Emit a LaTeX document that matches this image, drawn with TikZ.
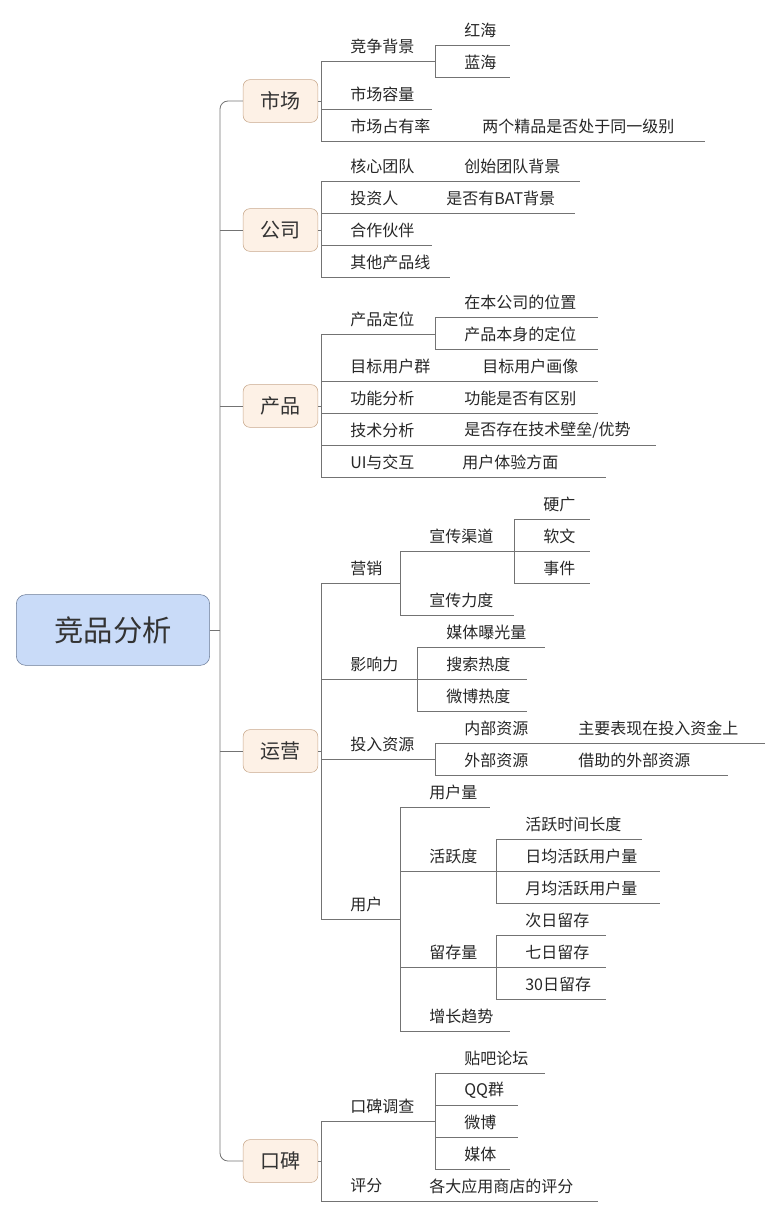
\documentclass[tikz,border=0pt]{standalone}
\usepackage{fontspec}
\setmainfont{Noto Sans CJK SC}
\definecolor{rootfill}{HTML}{C9DBF8}
\definecolor{rootline}{HTML}{6A7A96}
\definecolor{onefill}{HTML}{FDF1E6}
\definecolor{oneline}{HTML}{C8A88C}
\begin{document}
\begin{tikzpicture}[x=0.75pt,y=-0.75pt,
  ln/.style={draw=black!55,line width=0.6pt},
  txt/.style={font=\fontsize{12}{14}\selectfont,anchor=west,inner sep=0pt,text=black!85},
  lvone/.style={draw=oneline,fill=onefill,rounded corners=5pt,minimum width=56pt,minimum height=32pt,font=\fontsize{15}{18}\selectfont,inner sep=0pt,text=black!80},
  rootbox/.style={draw=rootline,fill=rootfill,rounded corners=7pt,minimum width=145pt,minimum height=53pt,font=\fontsize{22}{26}\selectfont,inner sep=0pt,text=black!80}]
\useasboundingbox (0,0) rectangle (782,1217);
\newcommand{\lf}[4]{\draw[ln] (#1,#3)--(#2,#3); \node[txt] at ({#1+29},{#3-15}) {#4};}
\newcommand{\ch}[3]{\node[txt] at (#1,{#2-15}) {#3};}
\newcommand{\vl}[3]{\draw[ln] (#1,#2)--(#1,#3);}
% trunk
\node[rootbox] (root) at (113,630) {竞品分析};
\node[lvone] (m) at (280.5,101) {市场};
\node[lvone] (g) at (280.5,230) {公司};
\node[lvone] (p) at (280.5,406) {产品};
\node[lvone] (y) at (280.5,751) {运营};
\node[lvone] (k) at (280.5,1161) {口碑};
\draw[ln] (root.east)--(220,630);
\draw[ln,rounded corners=6pt] (m.west)--(220,101)--(220,1161)--(k.west);
\draw[ln] (220,230)--(g.west); \draw[ln] (220,406)--(p.west); \draw[ln] (220,751)--(y.west);
% 市场
\draw[ln] (m.east)--(321,101); \vl{321}{61}{141}
\lf{321}{435}{61}{竞争背景}
\vl{435}{45}{77}
\lf{435}{510}{45}{红海}
\lf{435}{510}{77}{蓝海}
\lf{321}{432}{109}{市场容量}
\lf{321}{705}{141}{市场占有率}\ch{482}{141}{两个精品是否处于同一级别}
% 公司
\draw[ln] (g.east)--(321,230); \vl{321}{181}{277}
\lf{321}{580}{181}{核心团队}\ch{464}{181}{创始团队背景}
\lf{321}{575}{213}{投资人}\ch{446}{213}{是否有BAT背景}
\lf{321}{432}{245}{合作伙伴}
\lf{321}{450}{277}{其他产品线}
% 产品
\draw[ln] (p.east)--(321,406); \vl{321}{334}{477}
\lf{321}{435}{334}{产品定位}
\vl{435}{317}{349}
\lf{435}{598}{317}{在本公司的位置}
\lf{435}{598}{349}{产品本身的定位}
\lf{321}{598}{381}{目标用户群}\ch{482}{381}{目标用户画像}
\lf{321}{598}{413}{功能分析}\ch{464}{413}{功能是否有区别}
\lf{321}{656}{445}{技术分析}\ch{464}{445}{是否存在技术壁垒/优势}
\lf{321}{606}{477}{UI与交互}\ch{462}{477}{用户体验方面}
% 运营
\draw[ln] (y.east)--(321,751); \vl{321}{583}{919}
\lf{321}{400}{583}{营销}
\vl{400}{551}{615}
\lf{400}{514}{551}{宣传渠道}
\vl{514}{519}{583}
\lf{514}{590}{519}{硬广}
\lf{514}{590}{551}{软文}
\lf{514}{590}{583}{事件}
\lf{400}{514}{615}{宣传力度}
\lf{321}{417}{679}{影响力}
\vl{417}{647}{711}
\lf{417}{545}{647}{媒体曝光量}
\lf{417}{527}{679}{搜索热度}
\lf{417}{527}{711}{微博热度}
\lf{321}{435}{759}{投入资源}
\vl{435}{743}{775}
\lf{435}{765}{743}{内部资源}\ch{578}{743}{主要表现在投入资金上}
\lf{435}{728}{775}{外部资源}\ch{578}{775}{借助的外部资源}
\lf{321}{400}{919}{用户}
\vl{400}{807}{1031}
\lf{400}{490}{807}{用户量}
\lf{400}{496}{871}{活跃度}
\vl{496}{839}{903}
\lf{496}{642}{839}{活跃时间长度}
\lf{496}{660}{871}{日均活跃用户量}
\lf{496}{660}{903}{月均活跃用户量}
\lf{400}{496}{967}{留存量}
\vl{496}{935}{999}
\lf{496}{606}{935}{次日留存}
\lf{496}{606}{967}{七日留存}
\lf{496}{606}{999}{30日留存}
\lf{400}{510}{1031}{增长趋势}
% 口碑
\draw[ln] (k.east)--(321,1161); \vl{321}{1121}{1201}
\lf{321}{435}{1121}{口碑调查}
\vl{435}{1073}{1169}
\lf{435}{545}{1073}{贴吧论坛}
\lf{435}{518}{1105}{QQ群}
\lf{435}{518}{1137}{微博}
\lf{435}{510}{1169}{媒体}
\lf{321}{598}{1201}{评分}\ch{429}{1201}{各大应用商店的评分}
\end{tikzpicture}
\end{document}
